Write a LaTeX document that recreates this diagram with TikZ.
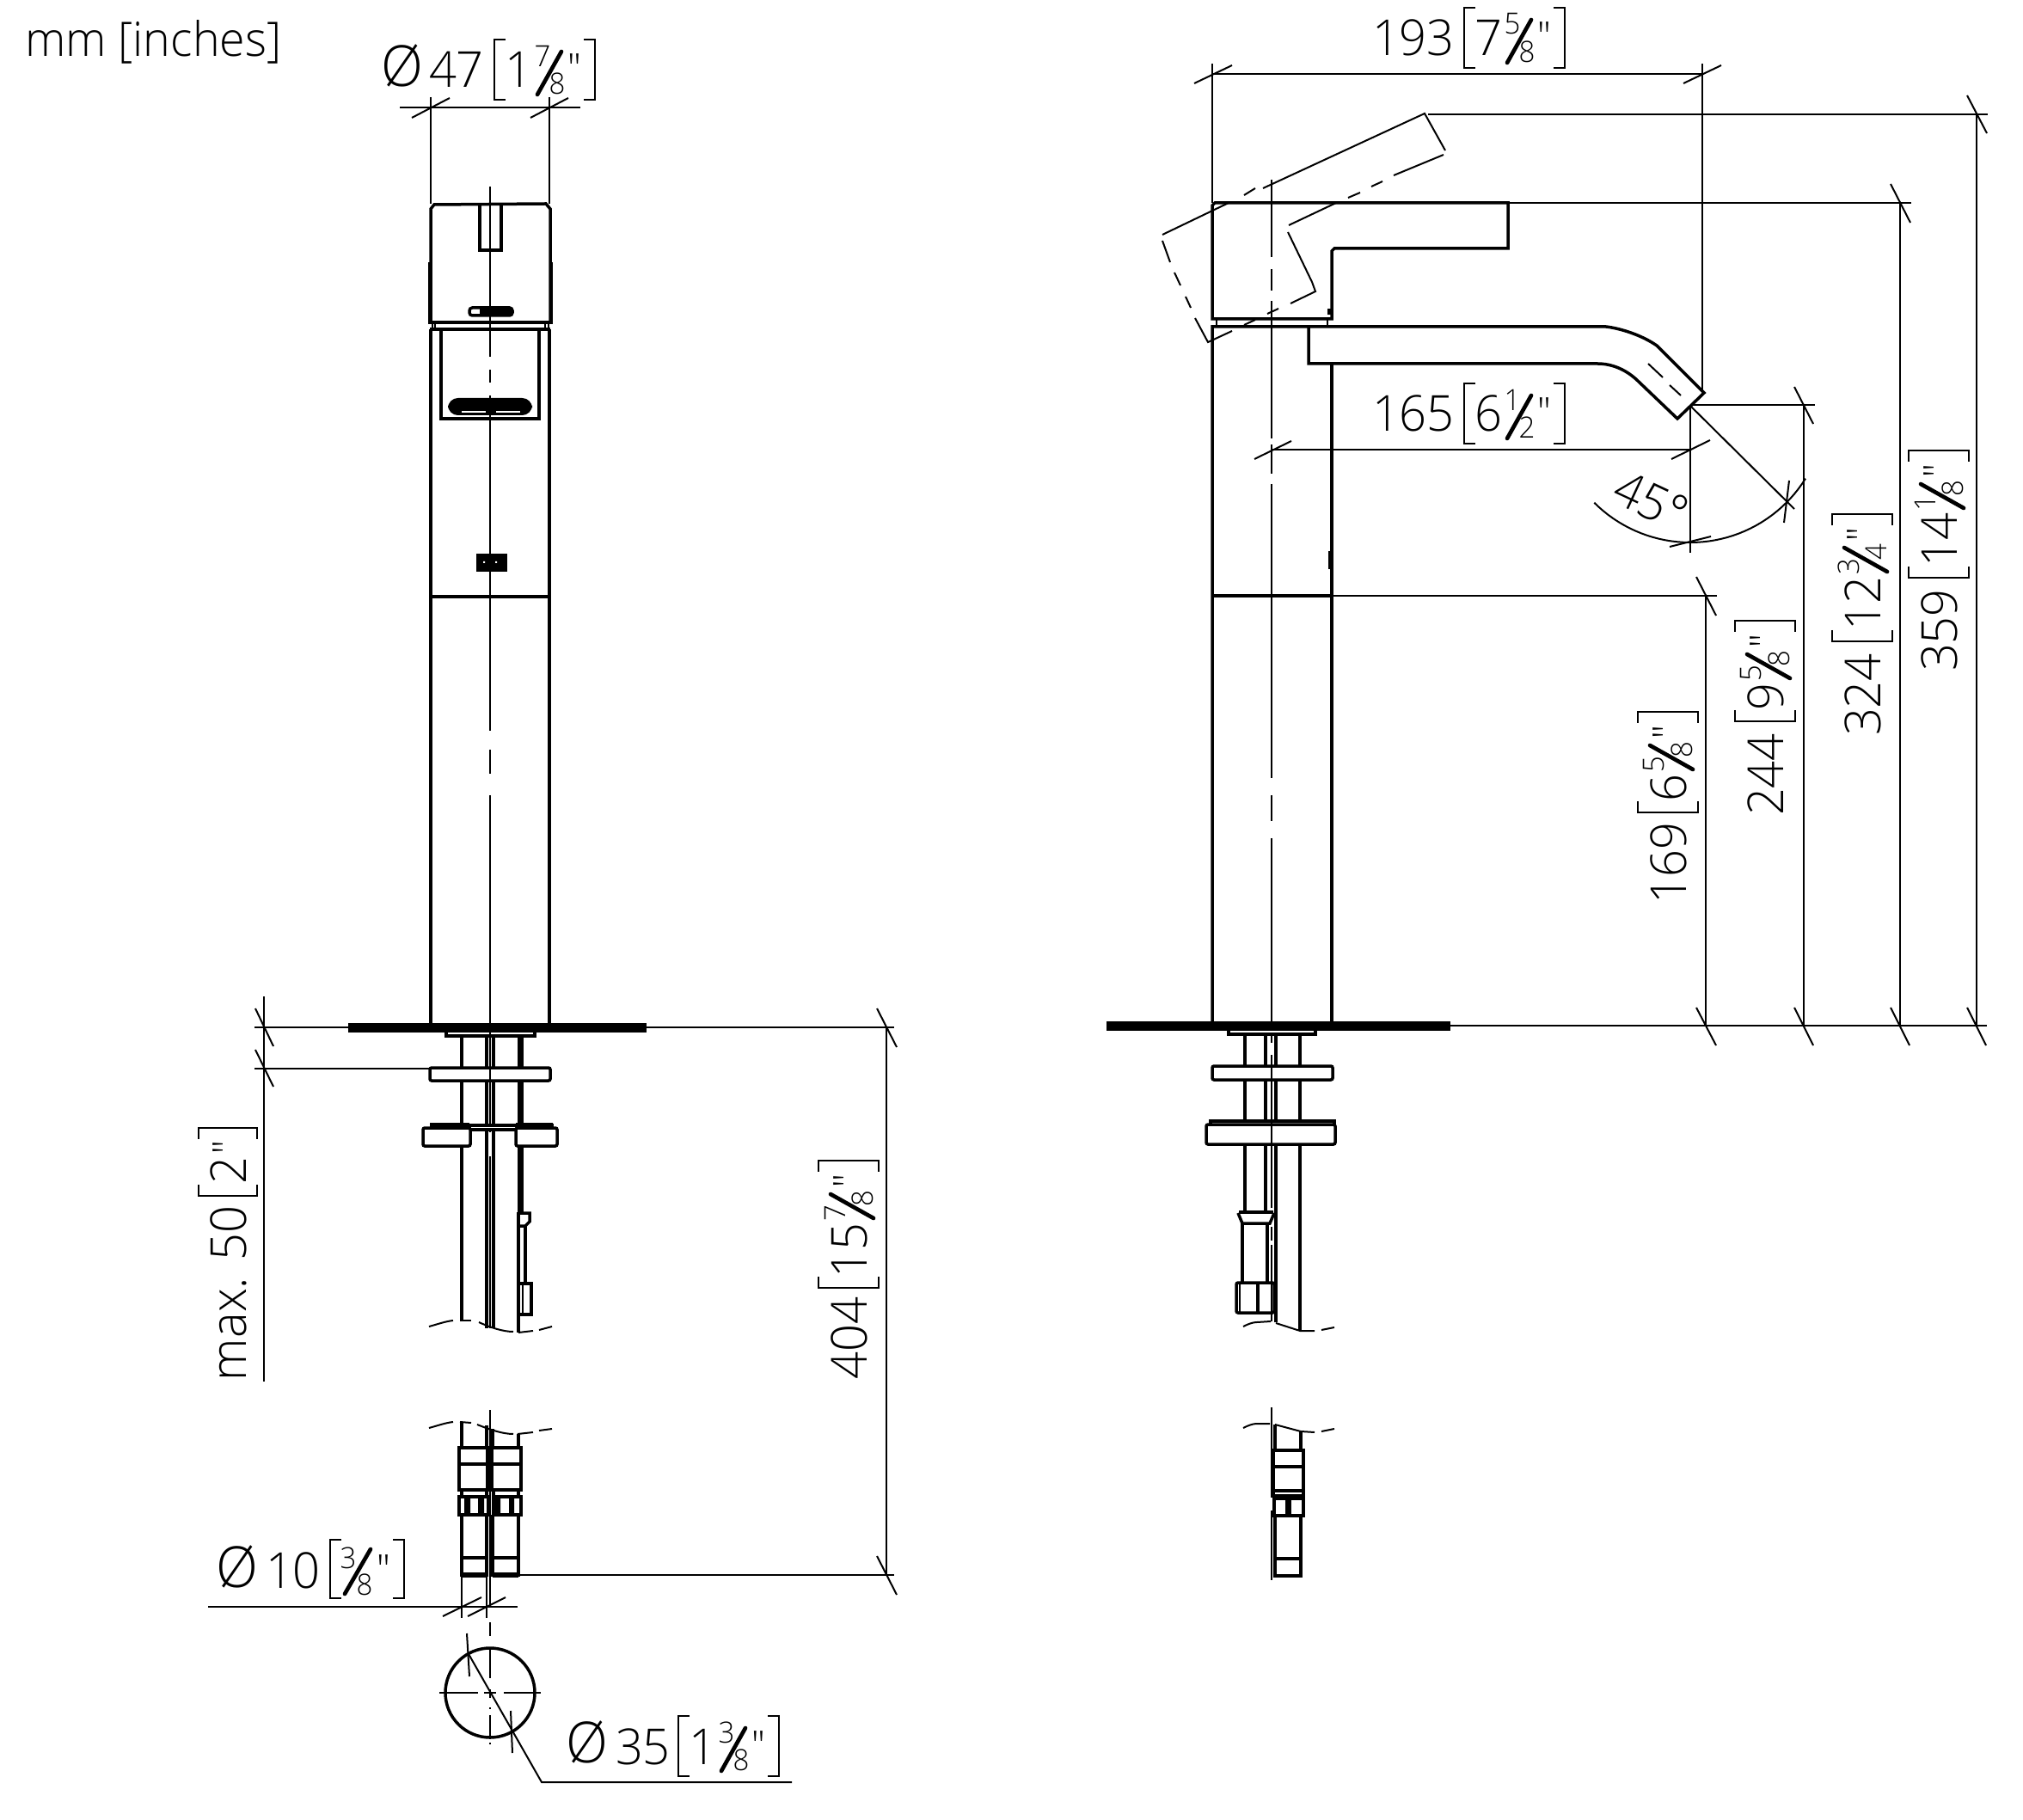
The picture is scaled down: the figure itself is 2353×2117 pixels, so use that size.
\documentclass[tikz,border=0pt]{standalone}
\usepackage{fontspec}
\setmainfont{Open Sans Light}
\newfontfamily\lf[FakeStretch=0.97]{Open Sans Light}
\newcommand{\bigf}{\lf\fontsize{17.3}{20}\selectfont}
\newcommand{\fracf}{\lf\fontsize{10.2}{12}\selectfont}
\newcommand{\quof}{\lf\fontsize{13.8}{16}\selectfont}
\newcommand{\phif}{\lf\fontsize{19.8}{22}\selectfont}
\newcounter{lblc}
\tikzset{
  thk/.style={line width=1.05pt,line join=miter},
  thn/.style={line width=0.6pt},
  txtb/.style={font=\bigf,inner sep=0pt,outer sep=0pt,anchor=base west,transform shape},
  txtf/.style={font=\fracf,inner sep=0pt,outer sep=0pt,anchor=center,transform shape},
  txtq/.style={font=\quof,inner sep=0pt,outer sep=0pt,anchor=base,transform shape},
  solid slash/.style={line width=1.4pt,line cap=round},
}
% #1 x, #2 y, #3 rot, #4 number, #5 L, #6 whole, #7 num, #8 den, #9 extra
\newcommand{\dimlbl}[9]{%
  \stepcounter{lblc}%
  \begin{scope}[shift={(#1,#2)},rotate=#3]
    \node[txtb] (n\thelblc) at (0,0) {#4};
    \draw[thn] (#5+13,-56) -- (#5,-56) -- (#5,14) -- (#5+13,14);
    \node[txtb] (w\thelblc) at (#5+12,0) {#6};
    \node[txtf] (t\thelblc) at (#5+56+#9,-37) {#7};
    \node[txtf] (b\thelblc) at (#5+73+#9,-5) {#8};
    \draw[solid slash] (#5+50+#9,8) -- (#5+78+#9,-42);
    \node[txtq] (q\thelblc) at (#5+93+#9,-6) {"};
    \draw[thn] (#5+104+#9,-56) -- (#5+117+#9,-56) -- (#5+117+#9,14) -- (#5+104+#9,14);
  \end{scope}}
\begin{document}
\begin{tikzpicture}[x=0.3pt,y=-0.3pt]
\useasboundingbox (0,0) rectangle (2353,2117);
\node[txtb,font=\lf\fontsize{16.6}{20}\selectfont] (units) at (29,66) {mm [inches]};

% ===== labels =====
\dimlbl{499}{102}{0}{47}{76}{1}{7}{8}{0}
\node[txtq,font=\phif] (phiA) at (468,101) {Ø};
\dimlbl{1596}{65}{0}{193}{107}{7}{5}{8}{0}
\dimlbl{1596}{502}{0}{165}{107}{6}{1}{2}{0}
\dimlbl{1961}{1052}{90}{169}{107}{6}{5}{8}{0}
\dimlbl{2074}{949}{90}{244}{110}{9}{5}{8}{0}
\dimlbl{2187}{856}{90}{324}{110}{12}{3}{4}{31}
\dimlbl{2276}{781}{90}{359}{109}{14}{1}{8}{31}
\dimlbl{1008}{1604}{90}{404}{106}{15}{7}{8}{31}
\dimlbl{716}{2052}{0}{35}{73}{1}{3}{8}{0}
\node[txtq,font=\phif] (phiC) at (683,2050) {Ø};
\begin{scope}[shift={(1872,583)},rotate=-25]
  \node[txtb] (ang) at (0,0) {45°};
\end{scope}
% max. 50 [2"]
\begin{scope}[shift={(286,1606)},rotate=90]
  \node[txtb] (mx) at (0,0) {max. 50};
  \draw[thn] (228,-55) -- (215,-55) -- (215,13) -- (228,13);
  \node[txtb] (mxw) at (229,0) {2};
  \node[txtq] (mxq) at (271,-6) {"};
  \draw[thn] (281,-55) -- (294,-55) -- (294,13) -- (281,13);
\end{scope}
% phi 10 [3/8"]
\begin{scope}[shift={(309,1847)}]
  \node[txtb] (tenn) at (0,0) {10};
  \draw[thn] (88,-56) -- (75,-56) -- (75,12) -- (88,12);
  \node[txtf] (tent) at (96,-35) {3};
  \node[txtf] (tenb) at (115,-4) {8};
  \draw[solid slash] (92,7) -- (122,-45);
  \node[txtq] (tenq) at (137,-6) {"};
  \draw[thn] (148,-56) -- (161,-56) -- (161,12) -- (148,12);
\end{scope}
\node[txtq,font=\phif] (phiB) at (276,1846) {Ø};

% ===== FRONT VIEW =====
% dimension 47
\draw[thn] (465,125) -- (675,125);
\draw[thn] (501,113) -- (501,237) (639,113) -- (639,237);
\draw[thn] (479,137) -- (523,114) (617,137) -- (661,114);
% handle
\draw[thk] (501,373) -- (501,243) -- (505,238) -- (635,237) -- (640,243) -- (640,373);
\draw[thk] (500,305) -- (500,375) -- (641,375) -- (641,305);
\draw[thk] (558,237) -- (558,291) -- (583,291) -- (583,237);
\draw[thk,fill=white,rounded corners=1pt] (546,358) rectangle (596,367);
\fill (558,358) rectangle (596,367);
\draw[thn] (503,375) -- (503,383) (506,375) -- (506,383) (634,375) -- (634,383) (638,375) -- (638,383);
% body
\draw[thk] (501,383) -- (501,1190) (639,383) -- (639,1190);
\draw[thk] (500,383) -- (640,383);
\draw[thk] (513,383) -- (513,487) -- (627,487) -- (627,383);
\fill[rounded corners=3.5pt] (521,463) rectangle (619,483);
\draw[white,line width=0.4pt] (537,479) -- (565,479) (577,479) -- (605,479);
\fill (554,644) rectangle (590,665);
\fill[white] (562,653) rectangle (564,655) (576,653) rectangle (578,655);
\draw[thk] (501,694) -- (639,694);
% centre line
\draw[thn] (570,217) -- (570,415) (570,430) -- (570,445) (570,460) -- (570,850) (570,872) -- (570,900) (570,925) -- (570,1306);
\draw[thn] (570,1317) -- (570,1300) (570,1345) -- (570,1545);
% plate
\fill (405,1190) rectangle (752,1201);
\draw[thn] (752,1195) -- (1040,1195);
\draw[thk] (519,1201) -- (519,1205) -- (622,1205) -- (622,1201);
% pipes
\draw[thk] (537,1205) -- (537,1537);
\draw[thk] (566,1205) -- (566,1545) (574,1205) -- (574,1545);
\draw[line width=2.1pt] (605,1205) -- (605,1410);
\draw[thk] (603,1410) -- (603,1550);
% washer
\draw[thk,fill=white,rounded corners=0.6pt] (500,1242) rectangle (640,1257);
\draw[thn] (570,1242) -- (570,1257);
% big nut
\draw[thk,fill=white] (502,1309) rectangle (642,1314);
\draw[thk,fill=white,rounded corners=0.6pt] (492,1312) rectangle (547,1333);
\draw[thk,fill=white,rounded corners=0.6pt] (600,1312) rectangle (648,1333);
\draw[line width=1.3pt] (500,1308) -- (546,1308) (600,1308) -- (643,1308);
% fitting
\draw[thk] (603,1411) -- (616,1411) -- (616,1421) -- (611,1426) -- (603,1426);
\draw[thk] (611,1426) -- (611,1493);
\draw[thk] (604,1493) -- (618,1493) -- (618,1529) -- (604,1529);
\draw[thn] (608,1493) -- (608,1529);
% break 1
\draw[thn] (499,1543) .. controls (510,1540) and (518,1537) .. (527,1536);
\draw[thn] (535,1536) -- (548,1536);
\draw[thn] (557,1538) .. controls (570,1544) and (585,1549) .. (597,1549);
\draw[thn] (603,1550) -- (620,1548) (627,1547) -- (642,1543);
% lower units, front
\draw[thn] (499,1661) .. controls (510,1658) and (518,1655) .. (527,1654);
\draw[thn] (535,1654) -- (548,1655);
\draw[thn] (555,1657) .. controls (570,1663) and (585,1668) .. (597,1668);
\draw[thn] (602,1668) -- (620,1666) (627,1664) -- (642,1662);
\draw[thk] (537,1654) -- (537,1685) (566,1658) -- (566,1685) (573,1662) -- (573,1685) (603,1668) -- (603,1685);
\draw[thk] (534,1684) rectangle (567,1733);
\draw[thk] (572,1684) rectangle (606,1733);
\draw[thk] (534,1703) -- (567,1703) (572,1703) -- (606,1703);
\draw[thk] (537,1733) -- (537,1741) (566,1733) -- (566,1741) (574,1733) -- (574,1741) (603,1733) -- (603,1741);
\draw[thk] (534,1741) rectangle (568,1762);
\draw[thk] (574,1741) rectangle (606,1762);
\fill (540,1741) rectangle (547,1762) (556,1741) rectangle (563,1762) (574,1741) rectangle (582,1762) (592,1741) rectangle (598,1762);
\draw[thk] (537,1762) -- (537,1832) -- (566,1832) -- (566,1762);
\draw[thk] (573,1762) -- (573,1832) -- (603,1832) -- (603,1762);
\draw[thk] (537,1812) -- (566,1812) (573,1812) -- (603,1812);
\draw[line width=1.6pt] (537,1832) -- (566,1832) (573,1832) -- (603,1832);
\draw[thn] (570,1640) -- (570,1870);
% phi 10 dim
\draw[thn] (242,1869) -- (602,1869);
\draw[thn] (537,1832) -- (537,1882) (566,1832) -- (566,1882);
\draw[thn] (515,1880) -- (560,1858) (544,1880) -- (588,1858);
% circle
\draw[thk] (570,1969) circle (52);
\draw[thn] (511,1969) -- (556,1969) (563,1969) -- (577,1969) (586,1969) -- (629,1969);
\draw[thn] (570,1887) -- (570,1903) (570,1916) -- (570,1952) (570,1965) -- (570,1975) (570,1986) -- (570,1988) (570,1995) -- (570,2023) (570,2027) -- (570,2029);
\draw[thn] (544.5,1923) -- (630,2073) -- (921,2073);
\draw[thn] (543,1900) -- (546,1950) (594,1990) -- (596,2039);
% max 50 dim
\draw[thn] (307,1159) -- (307,1607);
\draw[thn] (296,1195) -- (405,1195) (296,1243) -- (500,1243);
\draw[thn] (297,1173) -- (318,1217) (297,1221) -- (318,1264);
% 404 dim
\draw[thn] (1031,1195) -- (1031,1832);
\draw[thn] (604,1832) -- (1040,1832);
\draw[thn] (1020,1173) -- (1043,1218) (1020,1810) -- (1043,1855);

% ===== SIDE VIEW =====
% 193 dim
\draw[thn] (1410,86) -- (1980,86);
\draw[thn] (1410,74) -- (1410,236) (1980,74) -- (1980,455);
\draw[thn] (1389,97) -- (1433,76) (1958,97) -- (2002,76);
% handle
\draw[thk] (1410,371) -- (1410,239) -- (1413,236) -- (1754,236) -- (1754,289) -- (1552,289) -- (1549,292) -- (1549,371) -- cycle;
\draw[thn] (1415,371) -- (1415,380) (1544,371) -- (1544,380);
\draw[line width=1.2pt] (1546,359) -- (1546,366);
% spout and body
\draw[thk] (1410,1190) -- (1410,380) -- (1868,380) .. controls (1885,382) and (1910,390) .. (1927,402) -- (1982,457) -- (1951,487) -- (1906,444) .. controls (1892,430) and (1875,423) .. (1858,423) -- (1522,423) -- (1522,380);
\draw[thk] (1549,423) -- (1549,1190);
\draw[thk] (1410,693) -- (1549,693);
\draw[line width=1.2pt] (1547,641) -- (1547,662);
\draw[thn] (1917,423) -- (1934,439) (1942,448) -- (1955,460);
% dashed handle position
\draw[thn] (1352,273) -- (1429,236);
\draw[thn] (1447,227) -- (1460,219);
\draw[thn] (1469,219) -- (1657,132) -- (1681,175);
\draw[thn] (1679,180) -- (1621,204) (1608,211) -- (1595,217) (1582,224) -- (1568,230);
\draw[thn] (1554,236) -- (1499,262);
\draw[thn] (1498,270) -- (1526,328);
\draw[thn] (1526,328) -- (1530,339) -- (1501,353) (1487,359) -- (1474,365) (1460,372) -- (1447,378);
\draw[thn] (1433,385) -- (1405,398) -- (1390,370) (1385,358) -- (1379,345) (1373,332) -- (1366,317) (1361,305) -- (1352,280);
% extension lines
\draw[thn] (1661,133) -- (2312,133) (1754,236) -- (2223,236);
% centre line
\draw[thn] (1479,209) -- (1479,299) (1479,313) -- (1479,338) (1479,350) -- (1479,510) (1479,517) -- (1479,551) (1479,563) -- (1479,905) (1479,925) -- (1479,955) (1479,975) -- (1479,1188);
% 165 dim
\draw[thn] (1479,523) -- (1966,523);
\draw[thn] (1459,534) -- (1502,513) (1944,534) -- (1989,512);
\draw[thn] (1966,471) -- (1966,643);
% 45 deg
\draw[thn] (1967,473) -- (2087,592);
\draw[thn] plot[domain=32:135,samples=40] ({1966+158*cos(\x)},{473+158*sin(\x)});
\draw[thn] (2081,559) -- (2075,608) (1942,636) -- (1990,624);
% vertical dims
\draw[thn] (1967,471) -- (2111,471);
\draw[thn] (1549,693) -- (1997,693);
\draw[thn] (1687,1193) -- (2311,1193);
\draw[thn] (1984,693) -- (1984,1193) (2098,471) -- (2098,1193) (2210,236) -- (2210,1193) (2299,133) -- (2299,1193);
\draw[thn] (2087,450) -- (2109,493) (2199,214) -- (2222,259) (2288,111) -- (2311,155) (1973,671) -- (1996,716);
\draw[thn] (1973,1172) -- (1996,1216) (2087,1172) -- (2109,1216) (2199,1172) -- (2221,1216) (2288,1172) -- (2310,1216);
% plate
\fill (1287,1188) rectangle (1687,1199);
\draw[thk] (1429,1199) -- (1429,1203) -- (1530,1203) -- (1530,1199);
% pipes
\draw[thk] (1448,1203) -- (1448,1410) (1472,1203) -- (1472,1410) (1484,1203) -- (1484,1538) (1512,1203) -- (1512,1548);
\draw[thk,fill=white,rounded corners=0.6pt] (1410,1240) rectangle (1550,1256);
\draw[thk,fill=white] (1408,1304) rectangle (1552,1310);
\draw[thk,fill=white,rounded corners=0.6pt] (1403,1308) rectangle (1553,1331);
\draw[thn] (1479,1203) -- (1479,1213) (1479,1227) -- (1479,1405) (1479,1427) -- (1479,1443) (1479,1448) -- (1479,1537);
% fitting
\draw[line width=1.3pt] (1441,1410) -- (1481,1410);
\draw[thk] (1440,1411) -- (1445,1423) -- (1477,1423) -- (1482,1411);
\draw[thk] (1445,1423) -- (1445,1492) (1474,1423) -- (1474,1492);
\draw[thk,rounded corners=0.6pt] (1438,1492) rectangle (1482,1527);
\draw[thk] (1463,1492) -- (1463,1527);
\draw[thn] (1442,1492) -- (1442,1527);
% break
\draw[thn] (1446,1543) .. controls (1452,1540) and (1457,1538) .. (1462,1538) -- (1478,1537);
\draw[thn] (1484,1539) -- (1512,1548) -- (1529,1548) (1537,1547) -- (1552,1544);
% lower unit side
\draw[thn] (1446,1661) .. controls (1452,1658) and (1457,1656) .. (1462,1656) -- (1477,1656);
\draw[thn] (1483,1657) -- (1513,1665) -- (1529,1666) (1537,1665) -- (1552,1662);
\draw[thk] (1483,1657) -- (1483,1687) (1513,1665) -- (1513,1687);
\draw[thk] (1481,1687) rectangle (1516,1740);
\draw[thk] (1481,1706) -- (1516,1706) (1481,1734) -- (1516,1734);
\draw[thk] (1482,1743) rectangle (1516,1763);
\fill (1495,1743) rectangle (1502,1763);
\draw[thk] (1483,1763) -- (1483,1833) -- (1513,1833) -- (1513,1763);
\draw[thk] (1483,1813) -- (1513,1813);
\draw[thn] (1479,1637) -- (1479,1742) (1479,1757) -- (1479,1838);
\end{tikzpicture}
\end{document}
